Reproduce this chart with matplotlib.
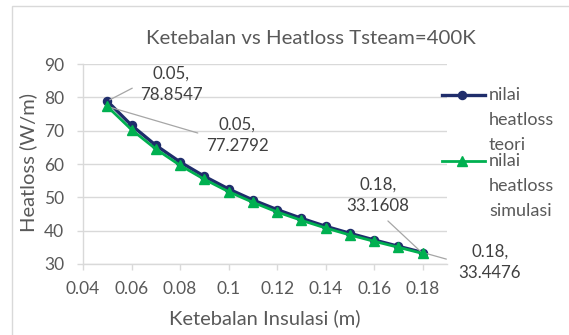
import matplotlib
matplotlib.use("Agg")
import matplotlib.pyplot as plt
from matplotlib.lines import Line2D
from matplotlib.patches import Rectangle

plt.rcParams['font.family'] = ['Lato', 'DejaVu Sans']

# Insulation thickness (m)
thickness = [0.05, 0.06, 0.07, 0.08, 0.09, 0.10, 0.11, 0.12, 0.13, 0.14, 0.15, 0.16, 0.17, 0.18]
# Heat loss (W/m): theoretical and simulated
heatloss_teori = [78.8547, 71.6, 65.6, 60.6, 56.3, 52.5, 49.2, 46.3, 43.7, 41.3, 39.2, 37.2, 35.3, 33.4476]
heatloss_simulasi = [77.2792, 70.3, 64.5, 59.6, 55.4, 51.7, 48.5, 45.6, 43.1, 40.8, 38.7, 36.8, 35.0, 33.1608]

x_ticks = [0.04, 0.06, 0.08, 0.10, 0.12, 0.14, 0.16, 0.18]
x_tick_labels = ["0.04", "0.06", "0.08", "0.1", "0.12", "0.14", "0.16", "0.18"]
y_ticks = [30, 40, 50, 60, 70, 80, 90]

title = "Ketebalan vs Heatloss Tsteam=400K"
x_label = "Ketebalan Insulasi (m)"
y_label = "Heatloss (W/m)"
legend_teori = "nilai\nheatloss\nteori"
legend_simulasi = "nilai\nheatloss\nsimulasi"

BLUE = "#1f2d6b"
GREEN = "#00b050"
TXT = "#595959"
LBL = "#404040"
GRID = "#d9d9d9"

W, H = 569, 335
fig = plt.figure(figsize=(W / 100, H / 100), dpi=100)

# chart frame
fig.patches.append(Rectangle((12 / W, -0.1), 1.2, 1 - 6 / H + 0.1, transform=fig.transFigure,
                             fill=False, edgecolor=GRID, lw=1.0))

ax = fig.add_axes([83 / W, 1 - 264 / H, (447 - 83) / W, (264 - 64) / H])
ax.set_facecolor("none")

ax.plot(thickness, heatloss_teori, color=BLUE, lw=2.4, marker="o", ms=5.8, zorder=3)
ax.plot(thickness, heatloss_simulasi, color=GREEN, lw=2.0, marker="^", ms=7.5, zorder=4)

ax.set_xlim(0.04, 0.19)
ax.set_ylim(30, 90)
ax.set_xticks(x_ticks)
ax.set_xticklabels(x_tick_labels)
ax.set_yticks(y_ticks)

ax.yaxis.grid(True, color=GRID, lw=1.0)
ax.set_axisbelow(True)
for s in ("top", "right"):
    ax.spines[s].set_visible(False)
for s in ("left", "bottom"):
    ax.spines[s].set_color(GRID)
    ax.spines[s].set_linewidth(1.0)
ax.tick_params(axis="both", colors=GRID, labelcolor=TXT, labelsize=12.5, length=4.5, width=1.0)
ax.tick_params(axis="y", pad=9)
ax.tick_params(axis="x", pad=8)

# axis titles and chart title
fig.text(265 / W, 1 - 318 / H, x_label, ha="center", va="center", fontsize=14.5, color=TXT)
fig.text(28 / W, 1 - 162 / H, y_label, ha="center", va="center", rotation=90,
         fontsize=14.5, color=TXT)
fig.text(311 / W, 1 - 39 / H, title, ha="center", va="center", fontsize=14.7, color=TXT)

# data labels with leader lines
def label_point(x, y, dx, dy, relpos, shrink):
    ax.annotate(f"{x:g},\n{y:g}", xy=(x, y), xytext=(dx, dy), textcoords="offset pixels",
                ha="center", va="center", multialignment="center",
                fontsize=12.2, color=LBL, linespacing=1.45,
                annotation_clip=False,
                arrowprops=dict(arrowstyle="-", color="#a6a6a6", lw=0.9, shrinkA=shrink,
                                shrinkB=2, relpos=relpos))

label_point(thickness[0], heatloss_teori[0], 64, 17, (0.0, 0.5), 4)
label_point(thickness[0], heatloss_simulasi[0], 130, -29, (0.0, 0.5), 4)
label_point(thickness[-1], heatloss_simulasi[-1], -45, 58, (0.55, 0.0), 4)
label_point(thickness[-1], heatloss_teori[-1], 67, -10, (0.0, 0.5), 7)

# legend: line sample with marker, label wrapped over several lines
def legend_entry(y_px, color, marker, ms, lw, text):
    yf = 1 - y_px / H
    fig.add_artist(Line2D([442 / W, 485 / W], [yf, yf], transform=fig.transFigure,
                          color=color, lw=lw))
    fig.add_artist(Line2D([462 / W], [yf], transform=fig.transFigure, color=color,
                          marker=marker, ms=ms, lw=0))
    for i, part in enumerate(text.split("\n")):
        fig.text(489 / W, 1 - (y_px + 5 + 25 * i) / H, part, ha="left", va="baseline",
                 fontsize=13, color=TXT)

legend_entry(95, BLUE, "o", 5.8, 2.4, legend_teori)
legend_entry(161, GREEN, "^", 7.5, 2.0, legend_simulasi)

fig.savefig("out.png", dpi=100)
